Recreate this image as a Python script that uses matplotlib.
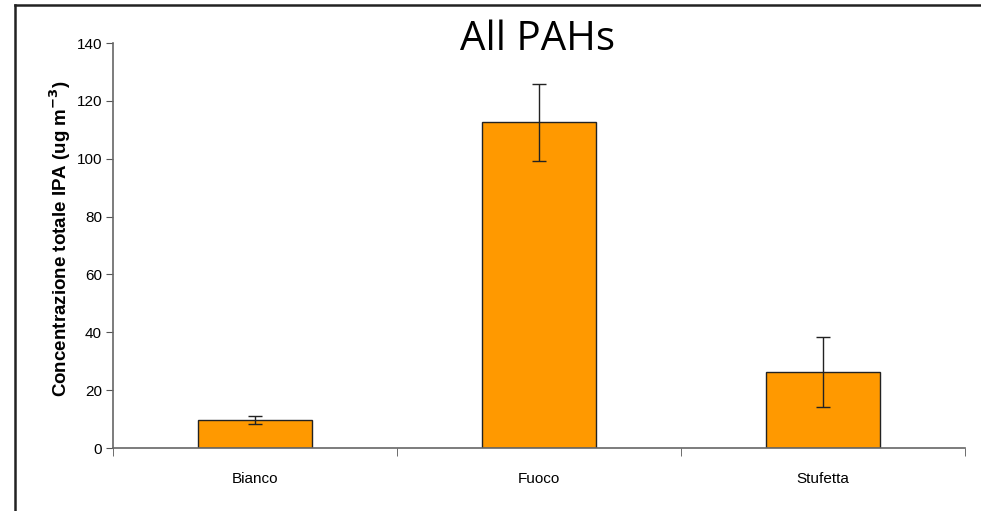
import matplotlib.pyplot as plt
from matplotlib.lines import Line2D

categorie = ["Bianco", "Fuoco", "Stufetta"]
valori = [9.8, 112.6, 26.2]
errori = [1.4, 13.4, 12.0]
yticks = [0, 20, 40, 60, 80, 100, 120, 140]

W, H = 981, 511
fig = plt.figure(figsize=(W / 100, H / 100), dpi=100)
plt.rcParams['font.family'] = ['Liberation Sans', 'DejaVu Sans']

# bordo esterno (solo sopra e a sinistra)
fig.add_artist(Line2D([15 / W, 1], [1 - 5 / H, 1 - 5 / H], color='#222222', lw=1.8))
fig.add_artist(Line2D([15 / W, 15 / W], [0, 1 - 5 / H], color='#222222', lw=1.8))

ax = fig.add_axes([113 / W, 1 - 448 / H, (965 - 113) / W, (448 - 43) / H])
x = range(len(categorie))
ax.bar(x, valori, width=0.4, color='#ff9900', edgecolor='#222222', linewidth=1.0,
       yerr=errori, error_kw=dict(ecolor='#222222', elinewidth=1.0, capsize=5, capthick=1.0))

ax.set_xlim(-0.5, 2.5)
ax.set_ylim(0, 140)
ax.set_yticks(yticks)
ax.set_xticks([0, 1, 2])
ax.set_xticklabels(categorie, fontsize=11)
ax.set_xticks([-0.5, 0.5, 1.5, 2.5], minor=True)
ax.tick_params(axis='x', which='major', length=0, pad=17)
ax.tick_params(axis='x', which='minor', length=6, direction='out', color='#555555')
ax.tick_params(axis='y', length=5, direction='out', color='#555555', labelsize=11, pad=3)

for s in ['top', 'right']:
    ax.spines[s].set_visible(False)
for s in ['left', 'bottom']:
    ax.spines[s].set_color('#666666')
    ax.spines[s].set_linewidth(1.2)

ax.set_ylabel("Concentrazione totale IPA (ug m$^{\\mathbf{-3}}$)", fontsize=13.5,
              fontweight='bold')
ax.yaxis.set_label_coords((60 - 113) / 852, (448 - 239) / 405)
ax.yaxis.label.set_va('center')

fig.text(537 / W, 1 - 40 / H, "All PAHs", fontsize=29, ha='center', va='center',
         family=['Open Sans', 'DejaVu Sans'])

fig.savefig("out.png", dpi=100)
